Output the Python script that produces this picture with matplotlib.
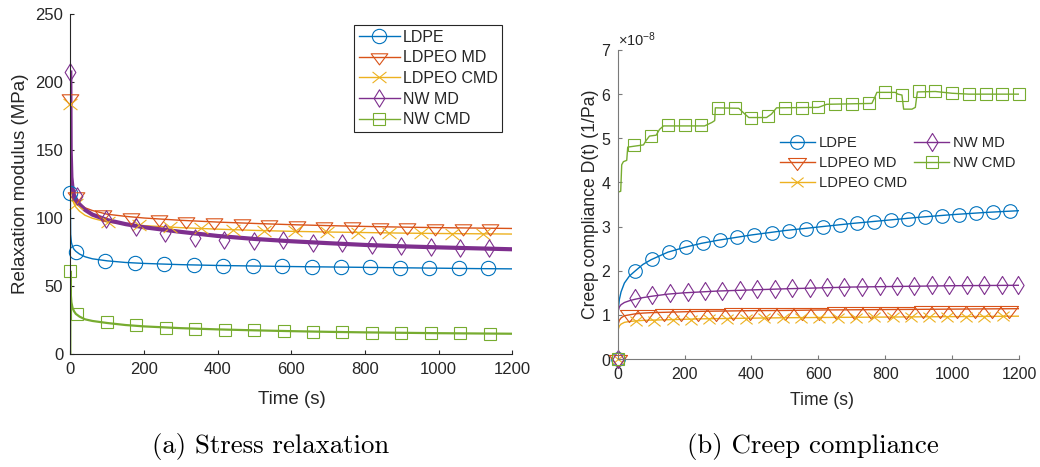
import numpy as np
import matplotlib
matplotlib.use('Agg')
import matplotlib.pyplot as plt
from matplotlib.path import Path

plt.rcParams['font.family'] = ['Liberation Sans', 'DejaVu Sans']
plt.rcParams['mathtext.fontset'] = 'custom'
plt.rcParams['mathtext.rm'] = 'Liberation Sans'
plt.rcParams['mathtext.it'] = 'Liberation Sans:italic'
plt.rcParams['mathtext.bf'] = 'Liberation Sans:bold'

# ---------------- data ----------------
labels = ['LDPE', 'LDPEO MD', 'LDPEO CMD', 'NW MD', 'NW CMD']
colors = ['#0072BD', '#D95319', '#EDB120', '#7E2F8E', '#77AC30']
time_ticks = [0, 200, 400, 600, 800, 1000, 1200]
relax_ticks = [0, 50, 100, 150, 200, 250]
creep_ticks = [0, 1, 2, 3, 4, 5, 6, 7]

# (a) stress relaxation, modulus in MPa
t_relax = [0, 1, 3, 6, 10, 15, 25, 40, 60, 100, 150, 200, 300, 400, 500,
           600, 700, 800, 900, 1000, 1100, 1200]
ldpe_G = [119, 88, 82, 79, 77, 75.5, 73.5, 71.5, 70, 68.5, 67.3, 66.6, 65.7,
          65.1, 64.7, 64.3, 64.0, 63.7, 63.4, 63.1, 62.8, 62.6]
ldpeo_md_G = [188, 140, 127, 120, 116.5, 114, 110.5, 107.5, 105.5, 102.8,
              101.2, 100, 98.3, 97, 96, 95.1, 94.4, 93.8, 93.3, 92.9, 92.6, 92.3]
ldpeo_cmd_G = [184, 132, 120, 114, 110.5, 108, 105, 102, 99.8, 97, 95.5,
               94.4, 92.9, 91.8, 90.9, 90.2, 89.7, 89.3, 88.9, 88.6, 88.4, 88.2]
nw_md_G = [207, 150, 130, 122, 117, 114, 110, 106, 102.5, 98.5, 95.5, 93.2,
           89.8, 86.8, 84.6, 82.9, 81.5, 80.2, 79.2, 78.4, 77.7, 77.0]
t_relax_nwcmd = [0, 0.3, 1, 3, 6, 10, 15, 25, 40, 60, 100, 150, 200, 300, 400,
                 500, 600, 700, 800, 900, 1000, 1100, 1200]
nw_cmd_G = [0, 61, 45, 38, 34, 31.5, 29.5, 27.5, 25.5, 24.3, 22.8, 21.3, 20.3,
            19.0, 18.1, 17.4, 16.8, 16.3, 15.9, 15.6, 15.3, 15.1, 14.9]

# marker samples (a)
ldpe_mt = [0, 15, 95, 175, 255, 335, 415, 495, 575, 655, 735, 815, 895, 975, 1055, 1135]
ldpe_mG = [118.6, 74.8, 68.6, 66.9, 65.9, 65.2, 65.0, 64.7, 64.5, 64.2, 64.0,
           63.7, 63.5, 63.2, 63.2, 63.0]
ldpeo_md_mt = [0, 15, 90, 165, 240, 315, 390, 465, 540, 615, 690, 765, 840,
               915, 990, 1065, 1140]
ldpeo_md_mG = [188.5, 116, 103, 100.8, 99.3, 98.1, 97.1, 96.2, 95.5, 94.9,
               94.4, 93.9, 93.5, 93.2, 92.9, 92.6, 92.4]
ldpeo_cmd_mt = [0, 16, 101, 186, 271, 356, 441, 526, 611, 696, 781, 866, 951,
                1036, 1121]
ldpeo_cmd_mG = [184, 110, 97, 94.7, 93.3, 92.3, 91.4, 90.7, 90.1, 89.7, 89.3,
                89.0, 88.8, 88.6, 88.4]
nw_md_mt = [0, 18, 98, 178, 258, 338, 418, 498, 578, 658, 738, 818, 898, 978,
            1058, 1138]
nw_md_mG = [207, 116, 99.5, 93.6, 88.7, 85.5, 84.0, 83.3, 83.5, 81.4, 81.4,
            80.1, 79.4, 78.9, 77.7, 77.7]
nw_cmd_mt = [0, 19, 99, 179, 259, 339, 419, 499, 579, 659, 739, 819, 899, 979,
             1059, 1139]
nw_cmd_mG = [61.3, 29.4, 23.3, 21.3, 19.4, 18.4, 17.9, 17.4, 16.9, 16.4, 16.2,
             15.7, 15.5, 15.4, 15.2, 15.0]

# (b) creep compliance, in units of 1e-8 1/Pa
t_creep = [0, 0.5, 2, 5, 10, 20, 35, 50, 75, 100, 150, 200, 250, 300, 400,
           500, 600, 700, 800, 900, 1000, 1100, 1200]
ldpe_D = [0, 0.9, 1.15, 1.35, 1.52, 1.72, 1.88, 1.98, 2.14, 2.25, 2.42, 2.53,
          2.62, 2.69, 2.81, 2.91, 2.99, 3.07, 3.14, 3.21, 3.27, 3.32, 3.36]
ldpeo_md_D = [0, 0.6, 0.8, 0.88, 0.93, 0.98, 1.0, 1.02, 1.04, 1.05, 1.06,
              1.07, 1.08, 1.085, 1.095, 1.10, 1.11, 1.115, 1.12, 1.125, 1.13,
              1.135, 1.14]
ldpeo_cmd_D = [0, 0.5, 0.68, 0.75, 0.79, 0.83, 0.85, 0.86, 0.875, 0.88, 0.89,
               0.9, 0.91, 0.915, 0.925, 0.935, 0.94, 0.945, 0.95, 0.955, 0.96,
               0.965, 0.97]
nw_md_D = [0, 0.9, 1.1, 1.18, 1.23, 1.28, 1.32, 1.35, 1.39, 1.42, 1.47, 1.5,
           1.52, 1.54, 1.565, 1.59, 1.61, 1.63, 1.64, 1.65, 1.66, 1.665, 1.67]
t_creep_nwcmd = [0, 0.5, 9, 12, 17, 27, 30, 77, 85, 95, 115, 125, 137, 260,
                 282, 290, 292, 362, 380, 392, 445, 460, 475, 600, 625, 760,
                 770, 775, 830, 838, 850, 855, 880, 890, 896, 950, 1000, 1050,
                 1200]
nw_cmd_D = [0, 3.78, 3.8, 4.4, 4.47, 4.5, 4.8, 4.85, 4.95, 5.05, 5.07, 5.2,
            5.28, 5.28, 5.36, 5.4, 5.69, 5.68, 5.55, 5.47, 5.47, 5.55, 5.69,
            5.7, 5.77, 5.79, 5.95, 6.04, 6.04, 6.0, 5.98, 5.66, 5.66, 5.7,
            6.05, 6.06, 6.02, 6.0, 6.0]

# marker samples (b)
ldpe_cmt = [0, 52, 103, 154, 205, 256, 307, 358, 409, 460, 511, 562, 613, 664,
            715, 766, 817, 868, 919, 970, 1021, 1072, 1123, 1174]
ldpe_cmD = [0, 2.0, 2.27, 2.42, 2.53, 2.62, 2.70, 2.76, 2.81, 2.86, 2.91, 2.95,
            2.99, 3.03, 3.07, 3.11, 3.15, 3.18, 3.22, 3.24, 3.27, 3.30, 3.33,
            3.36]
ldpeo_md_cmt = [0, 34, 86, 137, 189, 241, 293, 344, 396, 448, 499, 551, 603,
                654, 706, 758, 810, 861, 913, 965, 1016, 1068, 1120, 1171]
ldpeo_md_cmD = [0, 1.02, 1.03, 1.035, 1.04, 1.045, 1.05, 1.055, 1.06, 1.065,
                1.07, 1.07, 1.075, 1.08, 1.085, 1.09, 1.09, 1.095, 1.1, 1.1,
                1.105, 1.11, 1.11, 1.115]
ldpeo_cmd_cmt = [0, 54, 109, 164, 219, 273, 328, 383, 438, 493, 548, 603, 658,
                 712, 767, 822, 877, 932, 986, 1041, 1096, 1151]
ldpeo_cmd_cmD = [0, 0.85, 0.87, 0.88, 0.89, 0.9, 0.91, 0.915, 0.92, 0.925,
                 0.93, 0.935, 0.94, 0.94, 0.945, 0.95, 0.95, 0.955, 0.955,
                 0.96, 0.96, 0.965]
nw_md_cmt = [0, 52, 104, 156, 209, 261, 313, 365, 417, 470, 522, 574, 626,
             678, 731, 783, 835, 887, 939, 992, 1044, 1096, 1148, 1196]
nw_md_cmD = [0, 1.39, 1.45, 1.49, 1.51, 1.53, 1.55, 1.56, 1.58, 1.59, 1.61,
             1.61, 1.62, 1.63, 1.64, 1.65, 1.65, 1.66, 1.67, 1.67, 1.67, 1.67,
             1.67, 1.67]
nw_cmd_cmt = [0, 50, 100, 150, 200, 250, 300, 350, 400, 450, 500, 550, 600,
              650, 700, 750, 800, 850, 900, 950, 1000, 1050, 1100, 1150, 1200]
nw_cmd_cmD = [0, 4.85, 5.05, 5.29, 5.29, 5.29, 5.69, 5.68, 5.47, 5.51, 5.68,
              5.68, 5.71, 5.78, 5.78, 5.79, 6.04, 5.98, 6.07, 6.07, 6.02, 6.0,
              6.0, 6.0, 6.0]

# ---------------- marker shapes ----------------
tri_down = Path([(-1, 0.4444), (1, 0.4444), (0, -0.8889), (-1, 0.4444)],
                [Path.MOVETO, Path.LINETO, Path.LINETO, Path.CLOSEPOLY])
diamond = Path([(0, 1), (0.62, 0), (0, -1), (-0.62, 0), (0, 1)],
               [Path.MOVETO, Path.LINETO, Path.LINETO, Path.LINETO, Path.CLOSEPOLY])
xmark = Path([(-1, -0.8), (1, 0.8), (-1, 0.8), (1, -0.8)],
             [Path.MOVETO, Path.LINETO, Path.MOVETO, Path.LINETO])

W, H = 1040, 467
fig = plt.figure(figsize=(W / 100, H / 100), dpi=100)


def px_axes(x0, y0, x1, y1):
    return fig.add_axes([x0 / W, 1 - y1 / H, (x1 - x0) / W, (y1 - y0) / H])


def style_axes(ax, spine_color, tick_size):
    for s in ['top', 'right']:
        ax.spines[s].set_visible(False)
    for s in ['left', 'bottom']:
        ax.spines[s].set_color(spine_color)
        ax.spines[s].set_linewidth(0.8)
    ax.tick_params(direction='in', length=3, width=0.8, colors=spine_color,
                   labelcolor='#262626', labelsize=tick_size)


# ---------------- (a) ----------------
axA = px_axes(70.3, 14, 512.3, 354)
lw = 1.0
mew = 0.8
axA.plot(t_relax, ldpe_G, color=colors[0], lw=lw)
axA.plot(t_relax, ldpeo_md_G, color=colors[1], lw=lw)
axA.plot(t_relax, ldpeo_cmd_G, color=colors[2], lw=lw)
axA.plot(t_relax, nw_md_G, color=colors[3], lw=3.0)
axA.plot(t_relax_nwcmd, nw_cmd_G, color=colors[4], lw=1.6)

mk_a = [('o', 10.3), (tri_down, 12.0), (xmark, 10.0), (diamond, 12.5), ('s', 9.0)]
mt_a = [ldpe_mt, ldpeo_md_mt, ldpeo_cmd_mt, nw_md_mt, nw_cmd_mt]
mv_a = [ldpe_mG, ldpeo_md_mG, ldpeo_cmd_mG, nw_md_mG, nw_cmd_mG]
for i in range(5):
    axA.plot(mt_a[i], mv_a[i], ls='none', marker=mk_a[i][0], ms=mk_a[i][1],
             mfc='none', mec=colors[i], mew=mew, clip_on=False)

axA.set_xlim(0, 1200)
axA.set_ylim(0, 250)
axA.set_xticks(time_ticks)
axA.set_yticks(relax_ticks)
style_axes(axA, '#262626', 12)
axA.tick_params(axis='x', pad=6)
axA.tick_params(axis='y', pad=5)
axA.set_xlabel('Time (s)', fontsize=13.5, color='#262626')
axA.set_ylabel('Relaxation modulus (MPa)', fontsize=13.5, color='#262626')
axA.xaxis.set_label_coords(0.501, -0.108)
axA.yaxis.set_label_coords(-0.093, 0.501)

hA = [plt.Line2D([], [], color=colors[i], lw=1.0, marker=mk_a[i][0],
                 ms=mk_a[i][1], mfc='none', mec=colors[i], mew=mew)
      for i in range(5)]
legA = axA.legend(hA, labels, loc='upper left',
                  bbox_to_anchor=(354 / W, 1 - 25 / H),
                  bbox_transform=fig.transFigure, fontsize=11.5,
                  frameon=True, fancybox=False, edgecolor='#262626',
                  framealpha=1, handlelength=2.55, handletextpad=0.2,
                  labelspacing=0.35, borderpad=0.3, borderaxespad=0)
legA.get_frame().set_linewidth(0.8)
for t in legA.get_texts():
    t.set_color('#262626')

# ---------------- (b) ----------------
axB = px_axes(617.7, 50, 1019, 359)
scale = 1e-8
axB.plot(t_creep, np.array(ldpe_D) * scale, color=colors[0], lw=lw)
axB.plot(t_creep, np.array(ldpeo_md_D) * scale, color=colors[1], lw=lw)
axB.plot(t_creep, np.array(ldpeo_cmd_D) * scale, color=colors[2], lw=lw)
axB.plot(t_creep, np.array(nw_md_D) * scale, color=colors[3], lw=lw)
axB.plot(t_creep_nwcmd, np.array(nw_cmd_D) * scale, color=colors[4], lw=lw)

mk_b = [('o', 9.8), (tri_down, 13.0), (xmark, 8.8), (diamond, 13.0), ('s', 8.5)]
mt_b = [ldpe_cmt, ldpeo_md_cmt, ldpeo_cmd_cmt, nw_md_cmt, nw_cmd_cmt]
mv_b = [ldpe_cmD, ldpeo_md_cmD, ldpeo_cmd_cmD, nw_md_cmD, nw_cmd_cmD]
for i in range(5):
    axB.plot(mt_b[i], np.array(mv_b[i]) * scale, ls='none',
             marker=mk_b[i][0], ms=mk_b[i][1], mfc='none', mec=colors[i],
             mew=mew, clip_on=False)

axB.set_xlim(0, 1200)
axB.set_ylim(0, 7e-8)
axB.set_xticks(time_ticks)
axB.set_yticks(np.array(creep_ticks) * scale)
style_axes(axB, '#7a7a7a', 11.5)
axB.tick_params(axis='x', pad=6)
axB.tick_params(axis='y', pad=4.5)
fmt = matplotlib.ticker.ScalarFormatter(useMathText=True)
fmt.set_powerlimits((0, 0))
axB.yaxis.set_major_formatter(fmt)
axB.yaxis.get_offset_text().set_fontsize(10.5)
axB.yaxis.get_offset_text().set_color('#262626')
axB.set_xlabel('Time (s)', fontsize=12.7, color='#262626')
axB.set_ylabel('Creep compliance D(t) (1/Pa)', fontsize=12.7, color='#262626')
axB.xaxis.set_label_coords(0.51, -0.106)
axB.yaxis.set_label_coords(-0.047, 0.502)

hB = [plt.Line2D([], [], color=colors[i], lw=1.0, marker=mk_b[i][0],
                 ms=mk_b[i][1], mfc='none', mec=colors[i], mew=mew)
      for i in range(5)]
legB = axB.legend(hB, labels, loc='upper left', ncol=2,
                  bbox_to_anchor=(780 / W, 1 - 136 / H),
                  bbox_transform=fig.transFigure, fontsize=10.6,
                  frameon=False, handlelength=2.35, handletextpad=0.28,
                  labelspacing=0.42, borderpad=0.0, borderaxespad=0,
                  columnspacing=0.5)
for t in legB.get_texts():
    t.set_color('#262626')

# ---------------- captions ----------------
fig.text(271 / W, 1 - 447 / H, '(a) Stress relaxation', family='cmr10',
         fontsize=19.3, ha='center', va='center', color='black')
fig.text(813 / W, 1 - 447 / H, '(b) Creep compliance', family='cmr10',
         fontsize=19.3, ha='center', va='center', color='black')

fig.savefig('out.png', dpi=100)
